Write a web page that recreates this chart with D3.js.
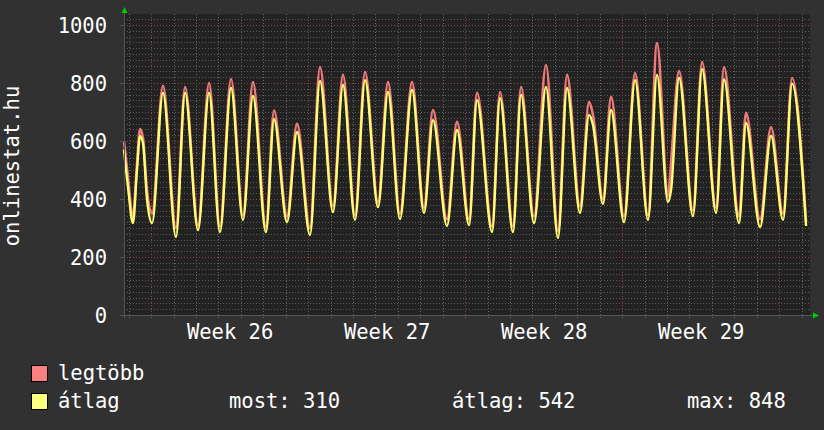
<!DOCTYPE html>
<html>
<head>
<meta charset="utf-8">
<script src="https://cdnjs.cloudflare.com/ajax/libs/d3/7.8.5/d3.min.js"></script>
<style>
    html, body { margin: 0; padding: 0; background: #313131; }
    #chart { width: 824px; height: 430px; }
    text { font-family: "DejaVu Sans Mono", monospace; font-size: 20.5px; fill: #ffffff; }
</style>
</head>
<body>
<div id="chart"></div>
<script>
// chart starts Saturday evening before week 26
const startTime = new Date(2011, 5, 25, 19, 0);
const spanHours = 734;

// hours since start (peaks and troughs)
const hours = [0, 4.3, 9.6, 13.9, 17.1, 20.3, 24.6, 30.0, 41.7, 55.6,
    65.3, 79.2, 91.0, 102.7, 114.5, 127.3, 138.0, 151.9, 160.5, 174.4,
    185.1, 199.0, 209.7, 223.6, 234.3, 247.2, 257.9, 271.8, 282.5, 295.3,
    308.2, 321.0, 330.6, 345.6, 356.3, 369.2, 377.7, 393.8, 402.3, 416.2,
    424.8, 438.7, 451.5, 464.4, 474.0, 487.9, 497.6, 501.8, 512.5, 521.1,
    535.0, 546.8, 560.7, 570.3, 582.1, 585.3, 593.9, 608.8, 618.5, 633.5,
    642.0, 658.1, 665.5, 680.6, 692.3, 705.2, 714.8, 729.8];

const legtobb = [600, 470, 340, 520, 641, 610, 430, 350, 790, 300,
    786, 310, 800, 305, 814, 345, 803, 305, 705, 340,
    659, 300, 855, 375, 828, 345, 838, 390, 803, 350,
    803, 370, 707, 330, 666, 330, 766, 305, 769, 305,
    786, 340, 862, 290, 828, 375, 734, 690, 400, 752,
    340, 834, 345, 938, 410, 524, 841, 360, 872, 370,
    855, 340, 697, 330, 648, 350, 817, 320];

const atlag = [570, 440, 317, 500, 617, 593, 400, 317, 766, 269,
    766, 293, 766, 286, 783, 328, 755, 286, 675, 320,
    631, 276, 807, 355, 793, 328, 810, 372, 769, 331,
    776, 352, 672, 307, 638, 310, 741, 286, 748, 286,
    759, 317, 786, 266, 783, 352, 690, 655, 383, 707,
    320, 810, 328, 828, 390, 430, 817, 341, 848, 352,
    812, 317, 662, 303, 618, 328, 798, 307];

const yTicks = [0, 200, 400, 600, 800, 1000];
const seriesNames = ['legtöbb', 'átlag'];
const seriesColors = ['#ff8080', '#ffff80'];
const lineColors = ['#f07a7a', '#ffff70'];
const statLabels = ['most: 310', 'átlag: 542', 'max: 848'];
const yTitle = 'onlinestat.hu';

const width = 824;
const height = 430;
const plot = { left: 124, right: 810, top: 14, bottom: 315 };

const svg = d3.select('#chart')
    .append('svg')
    .attr('width', width)
    .attr('height', height);

svg.append('rect')
    .attr('width', width)
    .attr('height', height)
    .attr('fill', '#313131');

const endTime = new Date(startTime.getTime() + spanHours * 3600e3);

const xScale = d3.scaleTime()
    .domain([startTime, endTime])
    .range([plot.left, plot.right]);

const yScale = d3.scaleLinear()
    .domain([0, 1000])
    .range([plot.bottom, 25]);

// plot background
svg.append('rect')
    .attr('x', plot.left)
    .attr('y', plot.top)
    .attr('width', plot.right - plot.left)
    .attr('height', plot.bottom - plot.top)
    .attr('fill', '#222222');

// horizontal grid
const minorY = d3.range(20, 1040, 20).filter(v => v % 200 !== 0);
svg.append('g').selectAll('line')
    .data(minorY)
    .enter()
    .append('line')
    .attr('x1', plot.left)
    .attr('x2', plot.right)
    .attr('y1', d => Math.round(yScale(d)) + 0.5)
    .attr('y2', d => Math.round(yScale(d)) + 0.5)
    .attr('stroke', '#5a5a5a')
    .attr('stroke-dasharray', '1,2');

// vertical grid: days and weeks
const days = d3.timeDay.range(d3.timeDay.ceil(startTime), endTime);
const mondays = d3.timeMonday.range(startTime, endTime);
svg.append('g').selectAll('line')
    .data(days.filter(d => d.getDay() !== 1))
    .enter()
    .append('line')
    .attr('x1', d => Math.round(xScale(d)) + 0.5)
    .attr('x2', d => Math.round(xScale(d)) + 0.5)
    .attr('y1', plot.top)
    .attr('y2', plot.bottom + 3)
    .attr('stroke', '#666666')
    .attr('stroke-dasharray', '1,2');

svg.append('g').selectAll('line')
    .data(yTicks.filter(v => v > 0))
    .enter()
    .append('line')
    .attr('x1', plot.left)
    .attr('x2', plot.right)
    .attr('y1', d => Math.round(yScale(d)) + 0.5)
    .attr('y2', d => Math.round(yScale(d)) + 0.5)
    .attr('stroke', '#8a4444')
    .attr('stroke-dasharray', '1,2');

svg.append('g').selectAll('line')
    .data(mondays)
    .enter()
    .append('line')
    .attr('x1', d => Math.round(xScale(d)) + 0.5)
    .attr('x2', d => Math.round(xScale(d)) + 0.5)
    .attr('y1', plot.top)
    .attr('y2', plot.bottom + 5)
    .attr('stroke', '#8a4444')
    .attr('stroke-dasharray', '1,2');

// data lines
const points = hours.map((h, i) => ({
    t: new Date(startTime.getTime() + h * 3600e3),
    max: legtobb[i],
    avg: atlag[i]
}));

const lineMax = d3.line()
    .x(d => xScale(d.t))
    .y(d => yScale(d.max))
    .curve(d3.curveMonotoneX);

const lineAvg = d3.line()
    .x(d => xScale(d.t))
    .y(d => yScale(d.avg))
    .curve(d3.curveMonotoneX);

svg.append('path')
    .datum(points)
    .attr('d', lineMax)
    .attr('fill', 'none')
    .attr('stroke', lineColors[0])
    .attr('stroke-width', 2.6);

svg.append('path')
    .datum(points)
    .attr('d', lineAvg)
    .attr('fill', 'none')
    .attr('stroke', lineColors[1])
    .attr('stroke-width', 2.4);

// axes lines
svg.append('line')
    .attr('x1', plot.left - 4).attr('x2', plot.right + 4)
    .attr('y1', plot.bottom + 0.5).attr('y2', plot.bottom + 0.5)
    .attr('stroke', '#555555');
svg.append('line')
    .attr('x1', plot.left + 0.5).attr('x2', plot.left + 0.5)
    .attr('y1', plot.bottom + 3).attr('y2', 10)
    .attr('stroke', '#555555');

// green arrows
svg.append('path')
    .attr('d', `M${plot.left - 2.5},13 L${plot.left + 3.5},13 L${plot.left + 0.5},7 Z`)
    .attr('fill', '#00cc00');
svg.append('path')
    .attr('d', `M${plot.right + 3},${plot.bottom - 2.5} L${plot.right + 3},${plot.bottom + 3.5} L${plot.right + 9},${plot.bottom + 0.5} Z`)
    .attr('fill', '#00cc00');

// Y axis labels
const yAxis = svg.append('g')
    .attr('transform', `translate(${plot.left},0)`)
    .call(d3.axisLeft(yScale).tickValues(yTicks).tickSize(4).tickPadding(13)
        .tickFormat(d3.format('d')));
yAxis.select('.domain').remove();
yAxis.selectAll('line').attr('stroke', '#555555');
yAxis.selectAll('text')
    .attr('dy', '0.37em')
    .attr('fill', '#ffffff')
    .style('font-family', '"DejaVu Sans Mono", monospace')
    .style('font-size', '20.5px');

// X axis labels, centered on each week
const midWeeks = mondays.map(d => new Date(d.getTime() + 3.5 * 864e5))
    .filter(d => d < endTime);
const xAxis = svg.append('g')
    .attr('transform', `translate(0,${plot.bottom})`)
    .call(d3.axisBottom(xScale).tickValues(midWeeks).tickSize(0).tickPadding(9)
        .tickFormat(d3.timeFormat('Week %V')));
xAxis.select('.domain').remove();
xAxis.selectAll('text')
    .attr('fill', '#ffffff')
    .style('font-family', '"DejaVu Sans Mono", monospace')
    .style('font-size', '20.5px');

// Y title
svg.append('text')
    .attr('transform', `translate(19,166) rotate(-90)`)
    .attr('text-anchor', 'middle')
    .text(yTitle);

// legend
const legend = svg.append('g');
seriesNames.forEach((name, i) => {
    const y = 365 + i * 28;
    legend.append('rect')
        .attr('x', 31.5).attr('y', y + 0.5)
        .attr('width', 16).attr('height', 16)
        .attr('fill', seriesColors[i])
        .attr('stroke', '#000000');
    legend.append('text')
        .attr('x', 58).attr('y', y + 15)
        .text(name);
});

const statX = [229, 452, 687];
statLabels.forEach((s, i) => {
    legend.append('text')
        .attr('x', statX[i]).attr('y', 408)
        .text(s);
});
</script>
</body>
</html>
